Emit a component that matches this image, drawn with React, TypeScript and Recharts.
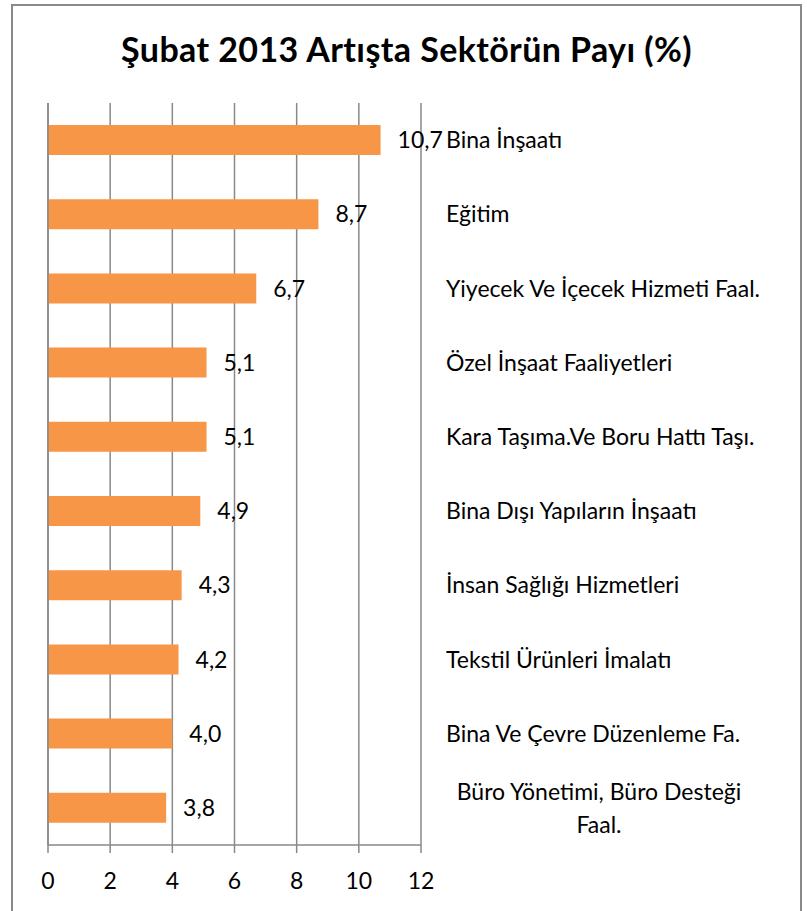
import { Bar, BarChart, CartesianGrid, LabelList, XAxis, YAxis } from "recharts";

const sectors = [
  "Bina İnşaatı",
  "Eğitim",
  "Yiyecek Ve İçecek Hizmeti Faal.",
  "Özel İnşaat Faaliyetleri",
  "Kara Taşıma.Ve Boru Hattı Taşı.",
  "Bina Dışı Yapıların İnşaatı",
  "İnsan Sağlığı Hizmetleri",
  "Tekstil Ürünleri İmalatı",
  "Bina Ve Çevre Düzenleme Fa.",
  "Büro Yönetimi, Büro Desteği\nFaal.",
];
const shares = [10.7, 8.7, 6.7, 5.1, 5.1, 4.9, 4.3, 4.2, 4.0, 3.8];
const xTicks = [0, 2, 4, 6, 8, 10, 12];
const boundaryTicks = [0, 1, 2, 3, 4, 5, 6, 7, 8, 9, 10];

const data = sectors.map((name, i) => ({ name, share: shares[i] }));

const FONT = "Lato, 'Open Sans', sans-serif";
const GRAY = "#898989";
const TEXT_SIZE = 23;

function SectorTick({ x, y, payload }: any) {
  const lines = String(payload.value).split("\n");
  if (lines.length === 1) {
    return (
      <text x={x} y={y} dy={8} textAnchor="start" fontSize={TEXT_SIZE} fill="#000" fontFamily={FONT}>
        {lines[0]}
      </text>
    );
  }
  // wrapped label is centred on its own block, like Excel does
  return (
    <text x={x + 153} y={y - 8} textAnchor="middle" fontSize={TEXT_SIZE} fill="#000" fontFamily={FONT}>
      {lines.map((l, i) => (
        <tspan key={i} x={x + 153} dy={i === 0 ? 0 : 33}>
          {l}
        </tspan>
      ))}
    </text>
  );
}

export default function App() {
  return (
    <div
      style={{
        position: "absolute",
        left: 11,
        top: 4,
        width: 787,
        height: 930,
        border: `2px solid ${GRAY}`,
        background: "#fff",
      }}
    >
      <div
        style={{
          textAlign: "center",
          fontFamily: FONT,
          fontWeight: 700,
          fontSize: 34,
          letterSpacing: 0.4,
          marginTop: 22,
          height: 44,
          lineHeight: "42px",
          color: "#000",
        }}
      >
        Şubat 2013 Artışta Sektörün Payı (%)
      </div>
      <BarChart
        width={787}
        height={836}
        data={data}
        layout="vertical"
        margin={{ top: 31, right: 0, bottom: 0, left: 0 }}
        barSize={30}
      >
        <CartesianGrid horizontal={false} stroke={GRAY} strokeWidth={1.5} />
        <XAxis
          type="number"
          domain={[0, 12]}
          ticks={xTicks}
          interval={0}
          stroke={GRAY}
          strokeWidth={1.5}
          tickSize={8}
          tickMargin={20}
          tick={{ fill: "#000", fontSize: TEXT_SIZE, fontFamily: FONT }}
          height={63}
        />
        <YAxis
          yAxisId="bounds"
          type="number"
          orientation="left"
          domain={[0, 10]}
          ticks={boundaryTicks}
          interval={0}
          reversed
          tick={false}
          tickSize={8}
          stroke={GRAY}
          strokeWidth={1.5}
          width={35}
        />
        <YAxis
          yAxisId="names"
          type="category"
          dataKey="name"
          orientation="right"
          axisLine={false}
          tickLine={false}
          tickSize={0}
          tickMargin={25}
          interval={0}
          width={379}
          tick={<SectorTick />}
        />
        <Bar dataKey="share" yAxisId="names" fill="#F79646" isAnimationActive={false}>
          <LabelList
            dataKey="share"
            position="right"
            offset={17}
            formatter={(v: any) => Number(v).toFixed(1).replace(".", ",")}
            fill="#000"
            fontSize={TEXT_SIZE}
            fontFamily={FONT}
          />
        </Bar>
      </BarChart>
    </div>
  );
}
